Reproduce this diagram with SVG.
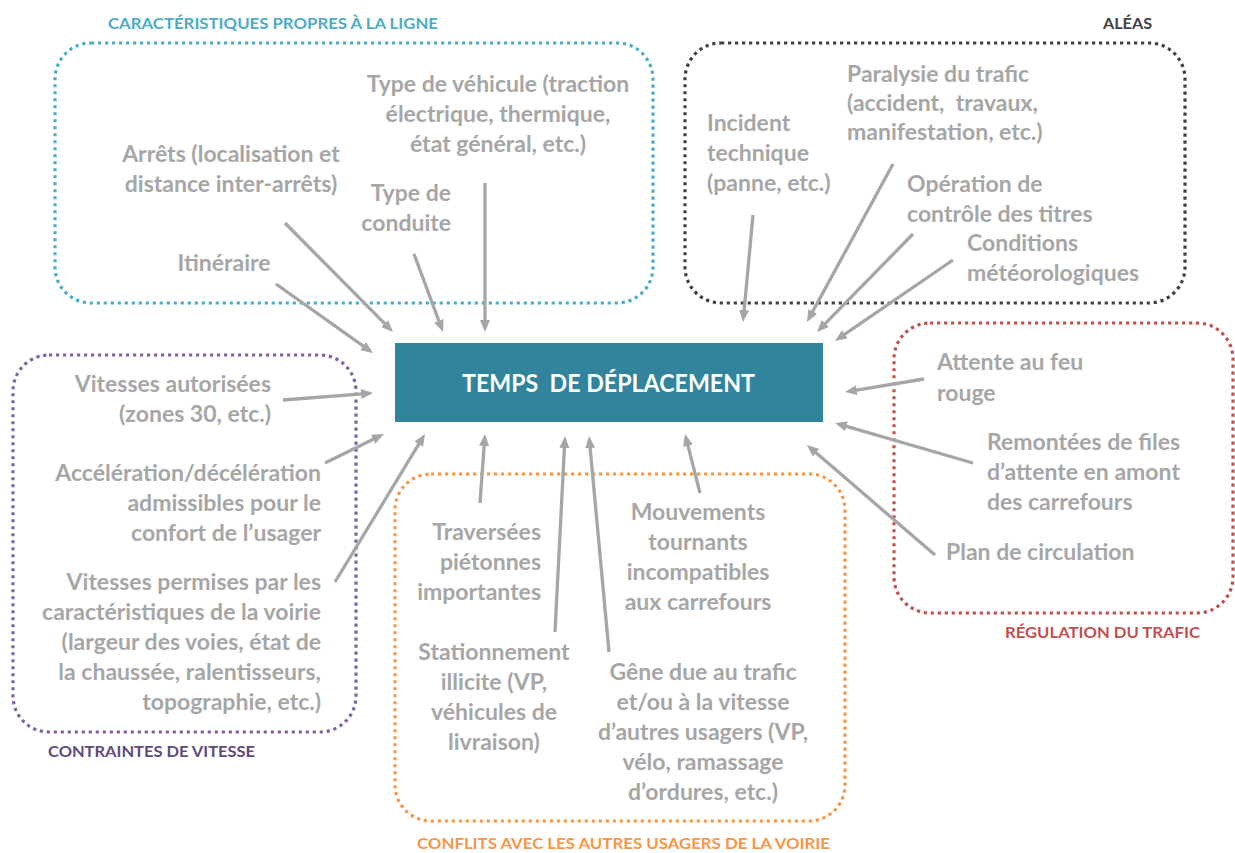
<svg xmlns="http://www.w3.org/2000/svg" width="1235" height="853" viewBox="0 0 1235 853">
<style>
.t{font-family:Lato,"Open Sans","Liberation Sans",sans-serif;font-weight:700;font-size:23px;fill:#a6a6a6;white-space:pre}
.h{font-family:Lato,"Open Sans","Liberation Sans",sans-serif;font-weight:700;font-size:15px}
.box{fill:none;stroke-width:3.2;stroke-linecap:butt;stroke-dasharray:3.2 3.8}
.c{text-anchor:middle}.e{text-anchor:end}
.arr{fill:none;stroke:#a6a6a6;stroke-width:3.3;marker-end:url(#ah)}
</style>
<defs>
<marker id="ah" markerUnits="userSpaceOnUse" markerWidth="13" markerHeight="11" refX="8" refY="5" orient="auto">
<path d="M0,0 L12,5 L0,10 z" fill="#a6a6a6"/>
</marker>
</defs>
<rect width="1235" height="853" fill="#ffffff"/>

<g id="group-ligne">
<rect class="box" x="55" y="43" width="598" height="260" rx="36" stroke="#4bacc6"/>
<text class="h" x="108" y="28.5" fill="#4bacc6" textLength="330" lengthAdjust="spacingAndGlyphs">CARACTÉRISTIQUES PROPRES À LA LIGNE</text>
</g>
<g id="group-aleas">
<rect class="box" x="685" y="43" width="500" height="260" rx="36" stroke="#404040"/>
<text class="h" x="1103" y="28.5" fill="#404040" textLength="49" lengthAdjust="spacingAndGlyphs">ALÉAS</text>
</g>
<g id="group-vitesse">
<rect class="box" x="13" y="355" width="343" height="377" rx="36" stroke="#8064a2"/>
<text class="h" x="48" y="757" fill="#604a7b" textLength="207" lengthAdjust="spacingAndGlyphs">CONTRAINTES DE VITESSE</text>
</g>
<g id="group-conflits">
<rect class="box" x="395" y="474" width="450" height="347" rx="36" stroke="#f79646"/>
<text class="h" x="417" y="849" fill="#f79646" textLength="413" lengthAdjust="spacingAndGlyphs">CONFLITS AVEC LES AUTRES USAGERS DE LA VOIRIE</text>
</g>
<g id="group-regulation">
<rect class="box" x="894" y="323" width="339" height="290" rx="36" stroke="#c0504d"/>
<text class="h" x="1005" y="638" fill="#c0504d" textLength="195" lengthAdjust="spacingAndGlyphs">RÉGULATION DU TRAFIC</text>
</g>

<g id="node-temps">
<rect x="395" y="343" width="428" height="79" fill="#31849b"/>
<text x="608.5" y="392" text-anchor="middle" style="white-space:pre" font-family="Lato,'Open Sans','Liberation Sans',sans-serif" font-weight="700" font-size="24" fill="#ffffff" textLength="293" lengthAdjust="spacingAndGlyphs">TEMPS  DE DÉPLACEMENT</text>
</g>

<g id="node-vehicule"><text class="t c" x="498" y="92">Type de véhicule (traction</text><text class="t c" x="498" y="122">électrique, thermique,</text><text class="t c" x="498" y="152">état général, etc.)</text></g>
<g id="node-arrets"><text class="t c" x="231" y="162">Arrêts (localisation et</text><text class="t c" x="231" y="192">distance inter-arrêts)</text></g>
<g id="node-conduite"><text class="t e" x="451" y="201">Type de</text><text class="t e" x="451" y="231">conduite</text></g>
<g id="node-itineraire"><text class="t c" x="224" y="271">Itinéraire</text></g>

<g id="node-incident"><text class="t" x="707" y="131">Incident</text><text class="t" x="707" y="161">technique</text><text class="t" x="707" y="191">(panne, etc.)</text></g>
<g id="node-paralysie"><text class="t" x="847" y="82">Paralysie du trafic</text><text class="t" x="847" y="111">(accident,  travaux,</text><text class="t" x="847" y="140">manifestation, etc.)</text></g>
<g id="node-operation"><text class="t" x="907" y="192">Opération de</text><text class="t" x="907" y="222">contrôle des titres</text></g>
<g id="node-conditions"><text class="t" x="967" y="251">Conditions</text><text class="t" x="967" y="281">météorologiques</text></g>

<g id="node-vit-autorisees"><text class="t e" x="271" y="392">Vitesses autorisées</text><text class="t e" x="271" y="422">(zones 30, etc.)</text></g>
<g id="node-acceleration"><text class="t e" x="321" y="481">Accélération/décélération</text><text class="t e" x="321" y="511">admissibles pour le</text><text class="t e" x="321" y="541">confort de l’usager</text></g>
<g id="node-vit-permises"><text class="t e" x="321" y="590">Vitesses permises par les</text><text class="t e" x="321" y="620">caractéristiques de la voirie</text><text class="t e" x="321" y="650">(largeur des voies, état de</text><text class="t e" x="321" y="680">la chaussée, ralentisseurs,</text><text class="t e" x="321" y="710">topographie, etc.)</text></g>

<g id="node-traversees"><text class="t e" x="541" y="540">Traversées</text><text class="t e" x="541" y="570">piétonnes</text><text class="t e" x="541" y="600">importantes</text></g>
<g id="node-stationnement"><text class="t c" x="494" y="660">Stationnement</text><text class="t c" x="494" y="690">illicite (VP,</text><text class="t c" x="494" y="720">véhicules de</text><text class="t c" x="494" y="750">livraison)</text></g>
<g id="node-mouvements"><text class="t c" x="698" y="520">Mouvements</text><text class="t c" x="698" y="550">tournants</text><text class="t c" x="698" y="580">incompatibles</text><text class="t c" x="698" y="610">aux carrefours</text></g>
<g id="node-gene"><text class="t c" x="703" y="680">Gêne due au trafic</text><text class="t c" x="703" y="710">et/ou à la vitesse</text><text class="t c" x="703" y="740">d’autres usagers (VP,</text><text class="t c" x="703" y="770">vélo, ramassage</text><text class="t c" x="703" y="800">d’ordures, etc.)</text></g>

<g id="node-attente"><text class="t" x="937" y="370">Attente au feu</text><text class="t" x="937" y="401">rouge</text></g>
<g id="node-remontees"><text class="t" x="987" y="450">Remontées de files</text><text class="t" x="987" y="480">d’attente en amont</text><text class="t" x="987" y="510">des carrefours</text></g>
<g id="node-plan"><text class="t" x="946" y="560">Plan de circulation</text></g>

<g id="connectors">
<line class="arr" x1="285" y1="223" x2="390.2" y2="329.2"/>
<line class="arr" x1="276" y1="284" x2="369.7" y2="350.7"/>
<line class="arr" x1="414" y1="254" x2="441.6" y2="328.3"/>
<line class="arr" x1="485" y1="183" x2="485" y2="328"/>
<line class="arr" x1="753" y1="215" x2="743.4" y2="318"/>
<line class="arr" x1="893" y1="164" x2="808.9" y2="318.5"/>
<line class="arr" x1="913" y1="234" x2="819.8" y2="329.1"/>
<line class="arr" x1="953" y1="260" x2="838.3" y2="338.7"/>
<line class="arr" x1="924" y1="379" x2="849" y2="391.4"/>
<line class="arr" x1="973" y1="463" x2="838.8" y2="424.1"/>
<line class="arr" x1="935" y1="555" x2="810" y2="447.6"/>
<line class="arr" x1="283" y1="400" x2="369" y2="393.3"/>
<line class="arr" x1="325" y1="463" x2="380.4" y2="435.8"/>
<line class="arr" x1="335" y1="582" x2="422.9" y2="437.4"/>
<line class="arr" x1="480" y1="503" x2="484.7" y2="438"/>
<line class="arr" x1="555" y1="632" x2="564.8" y2="440"/>
<line class="arr" x1="609" y1="652" x2="589.4" y2="440"/>
<line class="arr" x1="700" y1="493" x2="686" y2="437.9"/>
</g>
</svg>
